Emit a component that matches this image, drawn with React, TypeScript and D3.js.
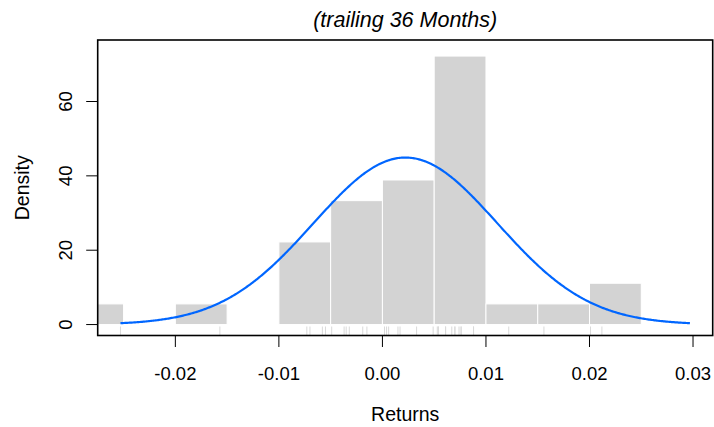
import React from "react";
import * as d3 from "d3";

// ---- data ----
const returns: number[] = [
  -0.0253,
  -0.0157,
  -0.0073, -0.007, -0.0058, -0.0055,
  -0.0049, -0.0037, -0.0035, -0.0032, -0.0019, -0.0015,
  0.0002, 0.0004, 0.0006, 0.0015, 0.0017, 0.0033, 0.0049,
  0.0053, 0.0054, 0.0054, 0.0061, 0.0061, 0.0067, 0.007, 0.007, 0.0074, 0.0076, 0.0076, 0.0088, 0.0088,
  0.0122,
  0.0156,
  0.0201, 0.0212,
];
const breaks: number[] = [-0.03, -0.025, -0.02, -0.015, -0.01, -0.005, 0, 0.005, 0.01, 0.015, 0.02, 0.025];
const xTicks: number[] = [-0.02, -0.01, 0, 0.01, 0.02, 0.03];
const xTickLabels: string[] = ["-0.02", "-0.01", "0.00", "0.01", "0.02", "0.03"];
const yTicks: number[] = [0, 20, 40, 60];
const xLimits: number[] = [-0.0253, 0.0297];
const yLimits: number[] = [0, 73.6];
const normalMean = 0.00222;
const normalSd = 0.00888;
const title = "(trailing 36 Months)";
const xLabel = "Returns";
const yLabel = "Density";

const W = 714;
const H = 427;
const plot = { left: 97.7, right: 712.7, top: 40, bottom: 335.5 };
const FONT = "'Liberation Sans', Arial, Helvetica, sans-serif";

function extend(lim: number[]): [number, number] {
  const d = (lim[1] - lim[0]) * 0.04;
  return [lim[0] - d, lim[1] + d];
}

export default function App() {
  const x = d3.scaleLinear().domain(extend(xLimits)).range([plot.left, plot.right]);
  const y = d3.scaleLinear().domain(extend(yLimits)).range([plot.bottom, plot.top]);

  const bins = d3
    .bin<number, number>()
    .domain([breaks[0], breaks[breaks.length - 1]])
    .thresholds(breaks.slice(1, -1))(returns);
  const n = returns.length;

  const curvePts: [number, number][] = d3.range(0, 501).map((i) => {
    const v = xLimits[0] + ((xLimits[1] - xLimits[0]) * i) / 500;
    const dens = Math.exp(-0.5 * ((v - normalMean) / normalSd) ** 2) / (normalSd * Math.sqrt(2 * Math.PI));
    return [x(v), y(dens)];
  });
  const line = d3.line()(curvePts) || "";

  return (
    <svg width={W} height={H} style={{ position: "absolute", left: 0, top: 0, background: "#fff" }} fontFamily={FONT}>
      <defs>
        <clipPath id="plotclip">
          <rect x={plot.left} y={plot.top} width={plot.right - plot.left} height={plot.bottom - plot.top} />
        </clipPath>
      </defs>
      <g clipPath="url(#plotclip)">
        {bins.map((b, i) => {
          const dens = b.length / (n * ((b.x1 as number) - (b.x0 as number)));
          if (dens === 0) return null;
          return (
            <rect
              key={i}
              x={x(b.x0 as number)}
              y={y(dens)}
              width={x(b.x1 as number) - x(b.x0 as number)}
              height={y(0) - y(dens)}
              fill="#d3d3d3"
              stroke="#ffffff"
              strokeWidth={1}
            />
          );
        })}
        {returns.map((r, i) => (
          <line key={i} x1={x(r)} x2={x(r)} y1={plot.bottom} y2={plot.bottom - 9} stroke="#d9d9d9" strokeWidth={1} />
        ))}
        <path d={line} fill="none" stroke="#0066ff" strokeWidth={2.2} />
      </g>
      <rect
        x={plot.left}
        y={plot.top}
        width={plot.right - plot.left}
        height={plot.bottom - plot.top}
        fill="none"
        stroke="#000"
        strokeWidth={1.6}
      />
      {xTicks.map((t, i) => (
        <g key={i}>
          <line x1={x(t)} x2={x(t)} y1={plot.bottom} y2={plot.bottom + 11.5} stroke="#000" strokeWidth={1} />
          <text x={x(t)} y={379.5} textAnchor="middle" fontSize={18.5}>
            {xTickLabels[i]}
          </text>
        </g>
      ))}
      {yTicks.map((t, i) => (
        <g key={i}>
          <line x1={plot.left} x2={plot.left - 11.5} y1={y(t)} y2={y(t)} stroke="#000" strokeWidth={1} />
          <text transform={`translate(71.5,${y(t)}) rotate(-90)`} textAnchor="middle" fontSize={18.5}>
            {t}
          </text>
        </g>
      ))}
      <text x={(plot.left + plot.right) / 2} y={421} textAnchor="middle" fontSize={19.5}>
        {xLabel}
      </text>
      <text transform={`translate(29,${(plot.top + plot.bottom) / 2}) rotate(-90)`} textAnchor="middle" fontSize={19.5}>
        {yLabel}
      </text>
      <text x={(plot.left + plot.right) / 2} y={27} textAnchor="middle" fontSize={21.5} fontStyle="italic">
        {title}
      </text>
    </svg>
  );
}
